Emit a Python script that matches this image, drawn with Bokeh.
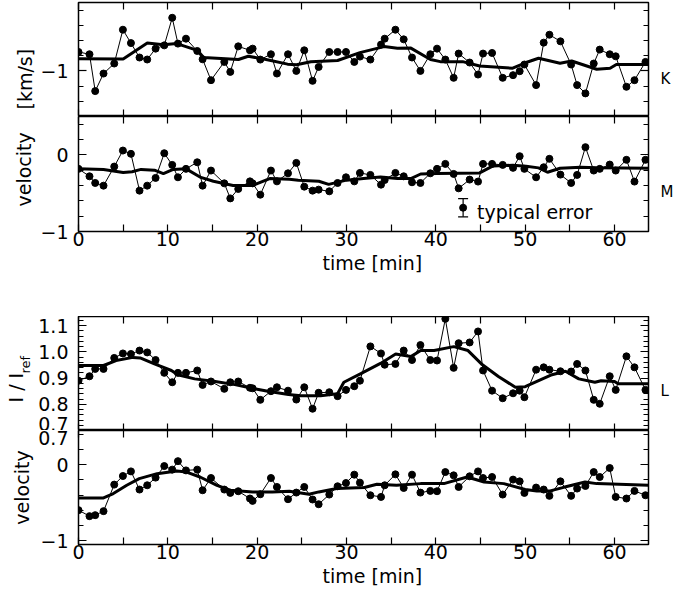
import math
from bokeh.plotting import figure
from bokeh.models import (Range1d, LinearAxis, FixedTicker, Label, Title,
                          CustomJSTickFormatter, ColumnDataSource, Whisker, TeeHead)
from bokeh.layouts import column
from bokeh.embed import file_html
from bokeh.resources import INLINE

FONT = "DejaVu Sans"

# ---------------- data ----------------
time = [0.0, 1.23, 1.87, 2.8, 4.0, 4.97, 5.87, 6.83, 7.69, 8.63, 9.6, 10.49, 11.13, 12.03,
        13.29, 13.89, 14.83, 16.32, 16.99, 17.88, 19.19, 19.49, 20.35, 21.54, 22.21, 23.45,
        24.38, 25.27, 26.2, 26.88, 28.07, 29.0, 29.94, 30.87, 31.5, 32.67, 33.86, 34.27,
        35.47, 36.4, 37.33, 38.27, 39.38, 40.13, 41.06, 41.99, 42.55, 43.78, 44.72, 45.28,
        46.29, 47.48, 48.64, 49.38, 49.91, 51.22, 52.07, 52.71, 53.94, 55.14, 55.81, 56.74,
        57.67, 58.34, 59.46, 60.13, 61.33, 62.23, 63.46]

vel_K = [-0.751, -0.781, -1.266, -1.035, -0.903, -0.458, -0.634, -0.824, -0.85, -0.707,
         -0.664, -0.301, -0.641, -0.576, -0.738, -0.847, -1.122, -0.882, -1.013, -0.677,
         -0.729, -0.707, -0.851, -0.781, -1.035, -0.781, -1.0, -0.729, -1.131, -0.948,
         -0.751, -0.751, -0.751, -0.882, -0.812, -0.851, -0.654, -0.576, -0.458, -0.585,
         -0.824, -1.0, -0.781, -0.707, -0.851, -1.091, -0.772, -0.89, -1.048, -0.772,
         -0.764, -1.091, -1.056, -1.004, -0.916, -1.187, -0.628, -0.524, -0.611, -0.916,
         -1.187, -1.296, -0.903, -0.72, -0.781, -0.808, -1.209, -1.122, -0.882]

vel_M = [-0.183, -0.28, -0.367, -0.402, -0.153, 0.056, 0.013, -0.467, -0.402, -0.301,
         0.021, -0.131, -0.293, -0.183, -0.097, -0.402, -0.205, -0.372, -0.568, -0.445,
         -0.346, -0.372, -0.52, -0.205, -0.346, -0.241, -0.105, -0.415, -0.467, -0.454,
         -0.476, -0.367, -0.293, -0.346, -0.236, -0.262, -0.389, -0.328, -0.236, -0.28,
         -0.358, -0.367, -0.241, -0.183, -0.118, -0.249, -0.437, -0.323, -0.349, -0.118,
         -0.118, -0.131, -0.170, -0.018, -0.183, -0.293, -0.162, -0.052, -0.258, -0.367,
         -0.262, 0.1, -0.205, -0.183, -0.127, -0.205, -0.065, -0.349, -0.065]

int_L = [0.890, 0.907, 0.935, 0.935, 0.977, 0.994, 0.992, 1.005, 0.998, 0.969,
         0.920, 0.884, 0.920, 0.920, 0.929, 0.874, 0.887, 0.859, 0.884, 0.887,
         0.863, 0.861, 0.817, 0.850, 0.865, 0.852, 0.818, 0.865, 0.783, 0.844,
         0.846, 0.831, 0.855, 0.869, 0.890, 1.021, 0.994, 0.951, 0.954, 1.005,
         0.969, 1.026, 0.969, 0.967, 1.126, 0.939, 1.033, 1.036, 1.078, 0.929,
         0.852, 0.823, 0.842, 0.852, 0.827, 0.932, 0.941, 0.932, 0.926, 0.925,
         0.954, 0.929, 0.817, 0.802, 0.907, 0.855, 0.983, 0.941, 0.855]

vel_L = [-0.598, -0.677, -0.664, -0.611, -0.262, -0.149, -0.088, -0.327, -0.271, -0.170,
         -0.018, -0.065, 0.047, -0.075, -0.065, -0.336, -0.175, -0.327, -0.371, -0.349,
         -0.445, -0.476, -0.389, -0.175, -0.293, -0.454, -0.367, -0.293, -0.458, -0.52,
         -0.393, -0.284, -0.241, -0.131, -0.236, -0.402, -0.424, -0.271, -0.127, -0.306,
         -0.131, -0.367, -0.345, -0.349, -0.097, -0.14, -0.293, -0.153, -0.088, -0.175,
         -0.162, -0.393, -0.196, -0.219, -0.371, -0.301, -0.327, -0.41, -0.219, -0.41,
         -0.314, -0.28, -0.097, -0.162, -0.044, -0.424, -0.445, -0.345, -0.402]

# smoothed curves (thick lines)
smooth_K_t = [0, 5.0, 7.7, 9.5, 11.0, 13.3, 14.0, 17.9, 19.0, 21.0, 23.4, 24.4, 26.0, 29.0,
              31.5, 34.2, 35.7, 37.2, 39.4, 40.5, 43.0, 44.9, 48.6, 50.1, 51.5, 53.9, 55.2,
              58.0, 59.5, 60.2, 63.8]
smooth_K_v = [-0.84, -0.843, -0.634, -0.655, -0.641, -0.729, -0.824, -0.85, -0.807, -0.85,
              -0.911, -0.92, -0.88, -0.863, -0.76, -0.68, -0.702, -0.70, -0.85, -0.878,
              -0.878, -0.935, -0.965, -0.89, -0.834, -0.9, -0.87, -0.978, -0.965, -0.916,
              -0.916]

smooth_M_t = [0, 2.8, 5.0, 6.0, 7.0, 8.5, 9.5, 10.6, 12.0, 13.6, 15.1, 17.3, 19.5, 21.4,
              23.6, 24.6, 26.9, 28.0, 30.0, 31.9, 33.8, 35.7, 37.2, 38.3, 40.1, 44.9, 46.4,
              48.6, 50.1, 51.5, 52.5, 53.9, 56.2, 58.0, 63.8]
smooth_M_v = [-0.183, -0.19, -0.23, -0.22, -0.19, -0.2, -0.245, -0.19, -0.18, -0.29,
              -0.345, -0.4, -0.4, -0.31, -0.32, -0.33, -0.345, -0.385, -0.33, -0.31,
              -0.29, -0.31, -0.31, -0.25, -0.245, -0.236, -0.145, -0.136, -0.15, -0.17,
              -0.227, -0.175, -0.162, -0.17, -0.175]

smooth_I_t = [0, 2.8, 4.2, 6.1, 6.9, 8.5, 10.4, 11.1, 13.0, 15.3, 17.5, 19.7, 21.2, 23.5,
              24.9, 27.1, 29.0, 29.7, 31.6, 33.8, 35.5, 37.2, 38.3, 39.8, 42.0, 43.6, 45.1,
              47.0, 48.9, 50.0, 51.5, 53.0, 54.5, 56.0, 57.8, 58.5, 60.0, 60.4, 63.8]
smooth_I_v = [0.948, 0.948, 0.967, 0.979, 0.977, 0.954, 0.929, 0.913, 0.897, 0.887,
              0.875, 0.859, 0.850, 0.837, 0.833, 0.833, 0.840, 0.884, 0.917, 0.956,
              0.992, 0.982, 1.005, 1.005, 1.020, 1.005, 0.954, 0.906, 0.865, 0.867,
              0.890, 0.913, 0.926, 0.897, 0.884, 0.890, 0.887, 0.878, 0.878]

smooth_L_t = [0, 2.8, 3.9, 5.4, 6.8, 8.8, 11.0, 12.1, 13.6, 15.5, 17.0, 19.5, 21.7, 23.6,
              25.8, 26.9, 28.9, 32.0, 33.4, 35.6, 38.3, 40.9, 43.5, 45.4, 47.6, 50.0, 51.3,
              52.8, 54.2, 56.7, 58.0, 63.8]
smooth_L_v = [-0.437, -0.437, -0.38, -0.271, -0.183, -0.118, -0.084, -0.097, -0.162, -0.271,
              -0.336, -0.358, -0.358, -0.349, -0.389, -0.358, -0.314, -0.301, -0.258, -0.271,
              -0.249, -0.249, -0.162, -0.228, -0.249, -0.327, -0.345, -0.345, -0.301, -0.228,
              -0.249, -0.271]

# typical error marker
err_t = [43.05]
err_v = [-0.69]
err_half = [0.118]

x_major = [0, 10, 20, 30, 40, 50, 60]
x_minor = [5, 15, 25, 35, 45, 55]
x_labels = ["0", "10", "20", "30", "40", "50", "60"]
T_MAX = 63.8

# ranges of the four panels
range_K = (-1.6, -0.1)
range_M = (-1.0, 0.5)
range_I = (0.7, 1.135)
range_V = (-1.05, 0.45)

# panel name labels on the right (value where each sits)
name_K, name_K_at = "K", -1.113
name_M, name_M_at = "M", -0.491
name_L, name_L_at = "L", 0.849


def hide_labels(ax):
    ax.formatter = CustomJSTickFormatter(code="return ''")
    ax.major_label_text_font_size = "0px"
    ax.major_label_standoff = 0


def base_axis(ax, tin, min_in):
    ax.axis_line_color = None
    ax.major_tick_in = tin
    ax.major_tick_out = 0
    ax.minor_tick_in = min_in
    ax.minor_tick_out = 0
    ax.major_tick_line_color = "black"
    ax.minor_tick_line_color = "black"
    ax.major_tick_line_width = 1.2
    ax.minor_tick_line_width = 1.2
    ax.major_label_text_font = FONT
    ax.major_label_text_font_size = "19px"
    ax.major_label_text_color = "black"


def make_panel(yr, frame_h, top_b, bottom_b, yticks, yminor, ylab, show_x):
    p = figure(frame_width=570, frame_height=frame_h,
               x_range=Range1d(0, T_MAX), y_range=Range1d(*yr),
               x_axis_location=None, y_axis_location=None,
               output_backend="svg", toolbar_location=None,
               min_border_left=78, min_border_right=38,
               min_border_top=top_b, min_border_bottom=bottom_b)
    p.outline_line_color = "black"
    p.outline_line_width = 1.5
    p.background_fill_color = "white"
    p.border_fill_color = "white"
    p.grid.grid_line_color = None

    xt = FixedTicker(ticks=x_major, minor_ticks=x_minor)
    for loc in ("below", "above"):
        ax = LinearAxis(ticker=xt)
        base_axis(ax, 7, 7)
        if loc == "below" and show_x:
            ax.major_label_overrides = {v: s for v, s in zip(x_major, x_labels)}
            ax.major_label_standoff = 0
        else:
            hide_labels(ax)
        p.add_layout(ax, loc)

    yt = FixedTicker(ticks=yticks, minor_ticks=yminor)
    axl = LinearAxis(ticker=yt)
    base_axis(axl, 8, 5)
    axl.major_label_overrides = ylab
    axl.major_label_standoff = 10
    p.add_layout(axl, "left")
    axr = LinearAxis(ticker=yt)
    base_axis(axr, 8, 5)
    hide_labels(axr)
    p.add_layout(axr, "right")
    return p


def right_name(p, text, at):
    ax = LinearAxis(ticker=FixedTicker(ticks=[at], minor_ticks=[]))
    ax.axis_line_color = None
    ax.major_tick_line_color = None
    ax.minor_tick_line_color = None
    ax.major_tick_in = 0
    ax.major_tick_out = 0
    ax.minor_tick_in = 0
    ax.minor_tick_out = 0
    ax.major_label_overrides = {at: text}
    ax.major_label_standoff = 12
    ax.major_label_text_font = FONT
    ax.major_label_text_font_size = "15px"
    ax.major_label_text_color = "black"
    p.add_layout(ax, "right")


def side_title(p, text, side, align="center", offset=0, size="19px", standoff=0):
    p.add_layout(Title(text=text, align=align, offset=offset, standoff=standoff,
                       text_font=FONT, text_font_size=size, text_font_style="normal",
                       text_color="black"), side)


def draw(p, t, v, st, sv):
    p.line(t, v, line_color="black", line_width=1)
    p.scatter(t, v, size=7, fill_color="black", line_color="black")
    p.line(st, sv, line_color="black", line_width=3)


vel_minor = [-0.8, -0.6, -0.4, -0.2, 0.2, 0.4]

# panel K
pK = make_panel(range_K, 114, 2, 0, [-1], [-1.4, -1.2, -0.8, -0.6, -0.4, -0.2],
                {-1: "\u22121"}, False)
draw(pK, time, vel_K, smooth_K_t, smooth_K_v)
side_title(pK, "[km/s]", "left", align="left", offset=7, standoff=3)
right_name(pK, name_K, name_K_at)

# panel M
pM = make_panel(range_M, 115, 0, 85, [-1, 0], vel_minor,
                {-1: "\u22121", 0: "0"}, True)
draw(pM, time, vel_M, smooth_M_t, smooth_M_v)
side_title(pM, "velocity", "left", align="left", offset=25, standoff=5)
right_name(pM, name_M, name_M_at)
side_title(pM, "time [min]", "below", align="left", offset=244, standoff=2)
src = ColumnDataSource(dict(t=err_t, v=err_v,
                            lo=[a - b for a, b in zip(err_v, err_half)],
                            hi=[a + b for a, b in zip(err_v, err_half)]))
pM.add_layout(Whisker(source=src, base="t", lower="lo", upper="hi", dimension="height",
                      line_width=1.2, line_color="black",
                      lower_head=TeeHead(size=10, line_width=1.2, line_color="black"),
                      upper_head=TeeHead(size=10, line_width=1.2, line_color="black")))
pM.scatter("t", "v", source=src, size=7, color="black")
pM.add_layout(Label(x=err_t[0] + 1.55, y=err_v[0] - 0.061, text="typical error",
                    text_font=FONT, text_font_size="19px", text_baseline="alphabetic",
                    text_color="black"))

# panel L (intensity)
pI = make_panel(range_I, 114, 0, 0, [0.7, 0.8, 0.9, 1.0, 1.1],
                [round(0.7 + 0.02 * i, 2) for i in range(1, 22) if i % 5 != 0],
                {0.7: "0.7", 0.8: "0.8", 0.9: "0.9", 1.0: "1.0", 1.1: "1.1"}, False)
draw(pI, time, int_L, smooth_I_t, smooth_I_v)
side_title(pI, "ref", "left", align="left", offset=57, size="13px", standoff=5)
side_title(pI, "I / I", "left", align="left", offset=28, standoff=-26)
right_name(pI, name_L, name_L_at)

# panel velocity (L); its top edge coincides with the 0.7 level of the panel above,
# so the lower half of that tick label is drawn here
pV = make_panel(range_V, 114, 0, 48, [-1, 0, range_V[1]], vel_minor,
                {-1: "\u22121", 0: "0", range_V[1]: "0.7"}, True)
draw(pV, time, vel_L, smooth_L_t, smooth_L_v)
side_title(pV, "velocity", "left", align="center", standoff=5)
side_title(pV, "time [min]", "below", align="left", offset=244, standoff=2)

layout = column(pK, pM, pI, pV, spacing=0)
open("out.html", "w").write(file_html(layout, INLINE))
